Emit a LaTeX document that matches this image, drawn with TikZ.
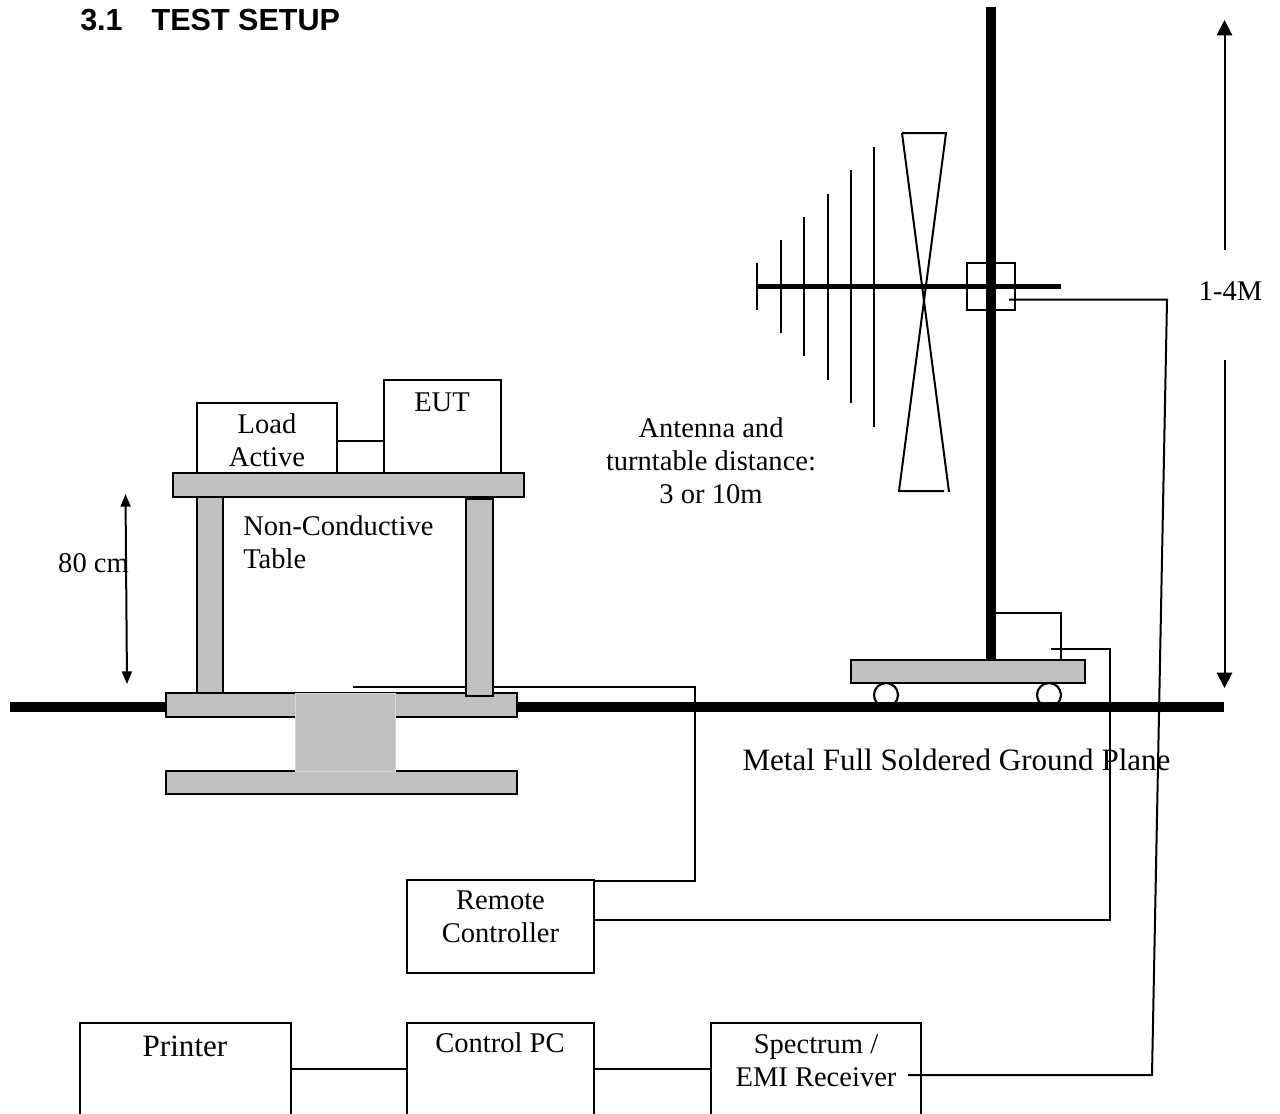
\documentclass[tikz,border=0pt]{standalone}
\usepackage{fontspec}
\setmainfont{Liberation Serif}
\newfontfamily\titlefont{Liberation Sans}
\usetikzlibrary{arrows.meta}
\definecolor{tablegray}{HTML}{C0C0C0}
\definecolor{blockedge}{HTML}{D8D8D8}
\tikzset{
  px/.style 2 args={minimum width=#1*0.75pt, minimum height=#2*0.75pt, inner sep=0pt, outer sep=0pt},
  whitebox/.style={draw=black, fill=white, line width=1.6pt},
  graybox/.style={draw=black, fill=tablegray, line width=1.8pt},
  wire/.style={draw=black, line width=1.5pt, line join=miter},
  element/.style={draw=black, line width=2.1pt},
  heavy/.style={draw=black, line width=7.5pt},
  txt/.style={inner sep=0pt, align=center, font=\fontsize{21.4}{24.75}\selectfont},
  bigtxt/.style={inner sep=0pt, align=center, font=\fontsize{23.3}{24.75}\selectfont},
  bigarrow/.style={wire, -{Triangle[length=11.5pt,width=11.5pt]}},
  dimarrow/.style={wire, {Triangle[length=9.5pt,width=7.5pt]}-{Triangle[length=9.5pt,width=7.5pt]}}
}
\begin{document}
\begin{tikzpicture}[x=0.75pt,y=-0.75pt]
\useasboundingbox (0,0) rectangle (1280,1113);
\clip (0,0) rectangle (1280,1113);
\coordinate (yA) at (0,881);
\coordinate (yB) at (0,441);
\coordinate (yC) at (0,920);
% title
\node[inner sep=0pt, anchor=west, font=\titlefont\bfseries\fontsize{22.9}{26}\selectfont] (title) at (80,20) {3.1\hspace{0.95em}TEST SETUP};
% wheels and ground
\node[whitebox, circle, px={24}{24}] (wheelL) at (886,695) {};
\node[whitebox, circle, px={24}{24}] (wheelR) at (1049,695) {};
\coordinate (gndL) at (10,706.5);
\coordinate (gndR) at (1224,706.5);
\draw[heavy] (gndL) -- (gndR);
% cable from table, passes behind the leg
\coordinate (tableCableEnd) at (353,687);
\coordinate (tableCableBend) at (695,687);
% table
\node[graybox, px={351}{24}] (base) at (341.5,705) {};
\node[graybox, px={351}{23}] (lower) at (341.5,782.5) {};
\node[draw=blockedge, fill=tablegray, line width=0.75pt, px={100}{78}] (block) at (345,732) {};
\node[graybox, px={26}{196}] (legL) at (210,595) {};
\node[whitebox, px={140}{70}] (load) at (267,438) {};
\node[whitebox, px={117}{93}] (eut) at (442.5,426.5) {};
\node[graybox, px={351}{24}] (top) at (348.5,485) {};
% remote controller
\node[whitebox, px={187}{93}] (remote) at (500.5,926.5) {};
\draw[wire] (tableCableEnd) -- (tableCableBend) -- (695,881) -- (remote.east |- yA);
\node[graybox, px={27}{197}] (legR) at (479.5,597.5) {};
\draw[wire] (load.east |- yB) -- (eut.west |- yB);
% turntable
\node[whitebox, px={69}{47}] (ttbox) at (1026.5,636.5) {};
\node[graybox, px={234}{23}] (platform) at (968,671.5) {};
% mast and antenna
\coordinate (mastTop) at (991.2,7);
\draw[heavy] (mastTop) -- (mastTop |- platform.north);
\coordinate (boomL) at (757,286.5);
\coordinate (boomR) at (1061,286.5);
\draw[draw=black, line width=3.5pt] (boomL) -- (boomR);
\foreach \n/\x/\a/\b in {a/757/263/310, b/781/240/333, c/804/217/356, d/828/194/380, e/851/170/403, f/874/147/427}{
  \coordinate (el\n T) at (\x,\a);
  \coordinate (el\n B) at (\x,\b);
  \draw[element] (el\n T) -- (el\n B);
}
\coordinate (conA) at (902,133);
\coordinate (conB) at (946,133);
\coordinate (conC) at (899,491);
\coordinate (conD) at (944,491);
\coordinate (conE) at (949,492);
\draw[wire] (conA) -- (conB) -- (conC) -- (conD);
\draw[wire] (conA) -- (conE);
\node[draw=black, line width=1.6pt, px={48}{47}] (clamp) at (991,286.5) {};
% bottom row
\node[whitebox, px={211}{92}] (printer) at (185.5,1069) {};
\node[whitebox, px={187}{92}] (pc) at (500.5,1069) {};
\node[whitebox, px={210}{92}] (spectrum) at (816,1069) {};
\draw[wire] (printer) -- (pc);
\draw[wire] (pc) -- (spectrum);
% long cables
\coordinate (ttCableEnd) at (1051,648.5);
\draw[wire] (remote.east |- yC) -- (1109.5,920) -- (1109.5,648.5) -- (ttCableEnd);
\coordinate (antCableEnd) at (1009,299.5);
\coordinate (specCableEnd) at (908,1075);
\draw[wire] (antCableEnd) -- (1167,299.5) -- (1152,1075) -- (specCableEnd);
% dimension arrows
\coordinate (hUpStart) at (1224.5,250);
\coordinate (hUpTip) at (1224.5,20);
\coordinate (hDnStart) at (1224.5,360);
\coordinate (hDnTip) at (1224.5,688);
\draw[bigarrow] (hUpStart) -- (hUpTip);
\draw[bigarrow] (hDnStart) -- (hDnTip);
\coordinate (dimT) at (125.5,494);
\coordinate (dimB) at (127,684);
\draw[dimarrow] (dimT) -- (dimB);
% labels
\node[txt] (lblLoad) at (267,440.5) {Load\\Active};
\node[txt] (lblEut) at (442,402) {EUT};
\node[txt, anchor=west, align=left] (lblTable) at (243,542.5) {Non-Conductive\\Table};
\node[txt] (lbl80) at (93.5,563) {80 cm};
\node[txt] (lblAnt) at (711,461) {Antenna and\\turntable distance:\\3 or 10m};
\node[txt] (lbl14) at (1230.5,291) {1-4M};
\node[bigtxt] (lblGround) at (956.5,760) {Metal Full Soldered Ground Plane};
\node[txt] (lblRemote) at (500.5,917) {Remote\\Controller};
\node[bigtxt] (lblPrinter) at (185,1046) {Printer};
\node[txt] (lblPc) at (500,1043) {Control PC};
\node[txt] (lblSpec) at (816,1060.5) {Spectrum /\\EMI Receiver};
\end{tikzpicture}
\end{document}
